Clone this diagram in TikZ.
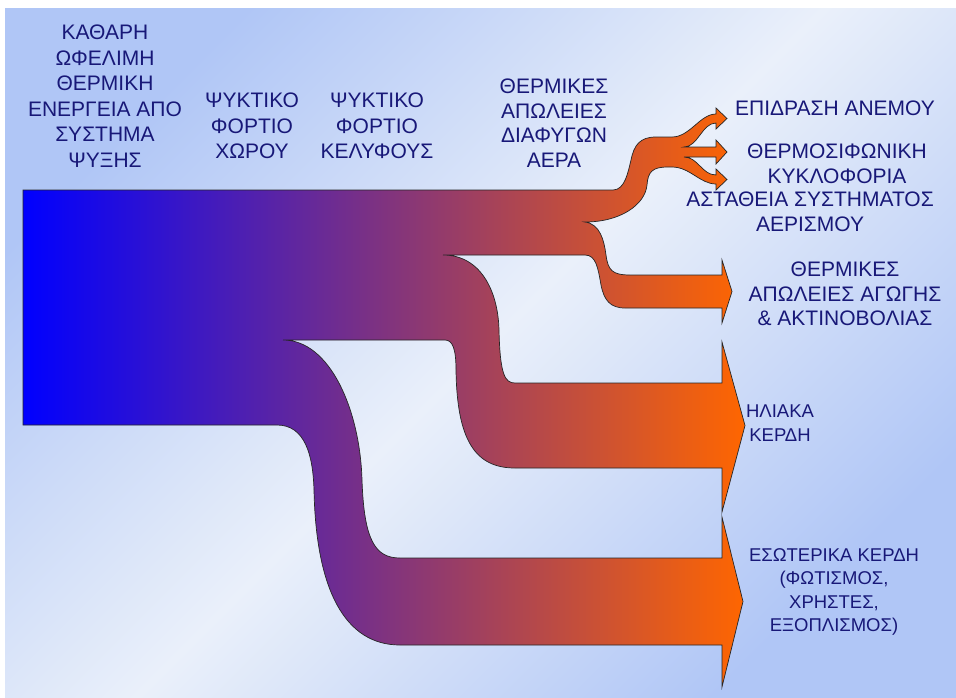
\documentclass[tikz,border=0pt]{standalone}
\usepackage{fontspec}
\setmainfont{Liberation Sans}
\usepackage{tikz}
\usetikzlibrary{calc}

\definecolor{flowblue}{RGB}{0,0,255}
\definecolor{floworange}{RGB}{255,102,0}
\definecolor{bgblue}{RGB}{176,198,246}
\definecolor{bgwhite}{RGB}{234,240,250}
\definecolor{labelblue}{RGB}{24,24,120}

\tikzset{
  lbl/.style={text=labelblue, align=center, inner sep=0pt, font=\fontsize{21}{24.5}\selectfont},
  small lbl/.style={lbl, font=\fontsize{18.5}{23.5}\selectfont},
  flow/.style={draw=black!85, line width=0.7pt, left color=flowblue, right color=floworange},
}

\begin{document}
\begin{tikzpicture}[x=1pt,y=-1pt]
    \useasboundingbox (0,0) rectangle (956,697);
    \fill[white] (0,0) rectangle (956,697);
    \shade[top color=bgblue, bottom color=bgblue, middle color=bgwhite, shading angle=45] (5,8) rectangle (956,697);
    \path[flow] (23,190) -- (613,190)
        .. controls (625,190) and (628,172) .. (631,160)
        .. controls (634,145) and (640,137) .. (656,137) -- (672,137)
        .. controls (690,137) and (700,114) .. (716,114)
        -- (716,108) -- (727,118.5) -- (716,129) -- (716,123)
        .. controls (702,123) and (698,147) .. (684,147)
        -- (716,147) -- (716,140) -- (727,152) -- (716,164) -- (716,157) -- (684,157)
        .. controls (698,157) and (702,175) .. (716,175)
        -- (716,169) -- (727,179.5) -- (716,190) -- (716,184)
        .. controls (700,184) and (690,167) .. (672,167) -- (668,167)
        .. controls (652,167) and (648,172) .. (647,185)
        .. controls (645,205) and (620,222) .. (585,222)
        .. controls (600,224) and (604,240) .. (606,255)
        .. controls (608,270) and (612,275) .. (630,275)
        -- (722,275) -- (722,260) -- (732,291.5) -- (722,323) -- (722,308) -- (625,308)
        .. controls (610,308) and (604,300) .. (601,285)
        .. controls (598,268) and (596,255) .. (585,255) -- (443,255)
        .. controls (480,255) and (498,290) .. (499,330)
        .. controls (500,375) and (505,383) .. (515,383)
        -- (722,383) -- (722,342) -- (745,425.5) -- (722,512) -- (722,468) -- (515,468)
        .. controls (475,468) and (457,440) .. (456,370)
        .. controls (456,350) and (453,340) .. (445,340) -- (283,340)
        .. controls (330,340) and (360,410) .. (362,480)
        .. controls (364,540) and (375,558) .. (400,558)
        -- (722,558) -- (722,517) -- (743,601.5) -- (722,687) -- (722,645) -- (400,645)
        .. controls (345,645) and (316,590) .. (314,490)
        .. controls (313,455) and (305,425) .. (277,425)
        -- (23,425) -- cycle;
    \node[lbl, font=\fontsize{21}{25.5}\selectfont] (cool) at (105,96) {ΚΑΘΑΡΗ\\ΩΦΕΛΙΜΗ\\ΘΕΡΜΙΚΗ\\ΕΝΕΡΓΕΙΑ ΑΠΟ\\ΣΥΣΤΗΜΑ\\ΨΥΞΗΣ};
    \node[lbl, font=\fontsize{21}{25.5}\selectfont] (room) at (252,126) {ΨΥΚΤΙΚΟ\\ΦΟΡΤΙΟ\\ΧΩΡΟΥ};
    \node[lbl, font=\fontsize{21}{25.5}\selectfont] (shell) at (377,126) {ΨΥΚΤΙΚΟ\\ΦΟΡΤΙΟ\\ΚΕΛΥΦΟΥΣ};
    \node[lbl] (leak) at (554,123) {ΘΕΡΜΙΚΕΣ\\ΑΠΩΛΕΙΕΣ\\ΔΙΑΦΥΓΩΝ\\ΑΕΡΑ};
    \node[lbl] (wind) at (835,108) {ΕΠΙΔΡΑΣΗ ΑΝΕΜΟΥ};
    \node[lbl] (siphon) at (837,164) {ΘΕΡΜΟΣΙΦΩΝΙΚΗ\\ΚΥΚΛΟΦΟΡΙΑ};
    \node[lbl] (vent) at (810,212) {ΑΣΤΑΘΕΙΑ ΣΥΣΤΗΜΑΤΟΣ\\ΑΕΡΙΣΜΟΥ};
    \node[lbl] (cond) at (845,294) {ΘΕΡΜΙΚΕΣ\\ΑΠΩΛΕΙΕΣ ΑΓΩΓΗΣ\\\& ΑΚΤΙΝΟΒΟΛΙΑΣ};
    \node[small lbl] (solar) at (780,423) {ΗΛΙΑΚΑ\\ΚΕΡΔΗ};
    \node[small lbl] (internal) at (834,592) {ΕΣΩΤΕΡΙΚΑ ΚΕΡΔΗ\\(ΦΩΤΙΣΜΟΣ,\\ΧΡΗΣΤΕΣ,\\ΕΞΟΠΛΙΣΜΟΣ)};
\end{tikzpicture}
\end{document}
